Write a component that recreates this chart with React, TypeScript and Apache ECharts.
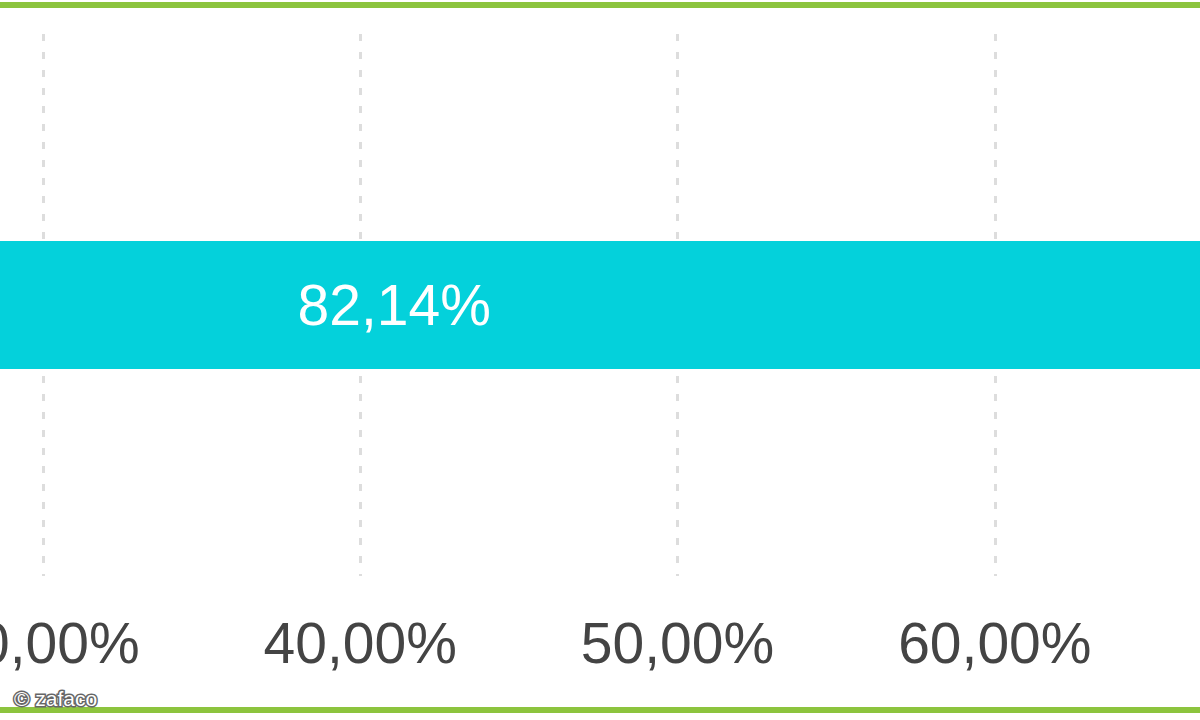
import React, { useEffect, useRef } from 'react';
import * as echarts from 'echarts';

// Data
const categories = ['Anteil'];
const values = [82.14];
const tickMin = 0;
const tickMax = 100;
const tickStep = 10;

const fmt = (v: number) => v.toFixed(2).replace('.', ',') + '%';

const App: React.FC = () => {
    const chartRef = useRef<HTMLDivElement>(null);

    useEffect(() => {
        if (!chartRef.current) return;
        const chart = echarts.init(chartRef.current, undefined, { renderer: 'svg' });

        chart.setOption({
            animation: false,
            backgroundColor: '#ffffff',
            textStyle: { fontFamily: '"Liberation Sans", Arial, sans-serif' },
            // the picture is a close crop: 30 % sits near the left edge
            grid: {
                left: -909,
                width: 3173,
                top: 34,
                bottom: 144,
                containLabel: false,
                outerBoundsMode: 'none'
            },
            xAxis: {
                type: 'value',
                min: tickMin,
                max: tickMax,
                interval: tickStep,
                axisLine: { show: false },
                axisTick: { show: false },
                axisLabel: {
                    formatter: (v: number) => fmt(v),
                    fontSize: 57,
                    color: '#444444',
                    margin: 38
                },
                splitLine: {
                    show: true,
                    lineStyle: { color: '#dddddd', width: 3, type: [7, 11] }
                }
            },
            yAxis: {
                type: 'category',
                data: categories,
                show: false
            },
            series: [
                {
                    type: 'bar',
                    data: values,
                    barWidth: 128,
                    itemStyle: { color: '#04d1db' },
                    label: {
                        show: true,
                        position: 'inside',
                        formatter: (p: any) => fmt(p.value),
                        fontSize: 57,
                        color: '#ffffff'
                    }
                }
            ],
            graphic: [
                {
                    type: 'rect',
                    shape: { x: 0, y: 2, width: 1200, height: 6 },
                    style: { fill: '#8cc43e' }
                },
                {
                    type: 'rect',
                    shape: { x: 0, y: 707, width: 1200, height: 6 },
                    style: { fill: '#8cc43e' }
                },
                {
                    type: 'text',
                    x: 14,
                    y: 698,
                    style: {
                        text: '© zafaco',
                        fill: '#ffffff',
                        stroke: '#666666',
                        lineWidth: 3,
                        fontSize: 21,
                        fontFamily: '"Liberation Sans", Arial, sans-serif',
                        verticalAlign: 'middle'
                    }
                }
            ]
        });

        return () => {
            chart.dispose();
        };
    }, []);

    return <div ref={chartRef} style={{ width: 1200, height: 720, position: 'fixed', left: 0, top: 0 }} />;
};

export default App;
